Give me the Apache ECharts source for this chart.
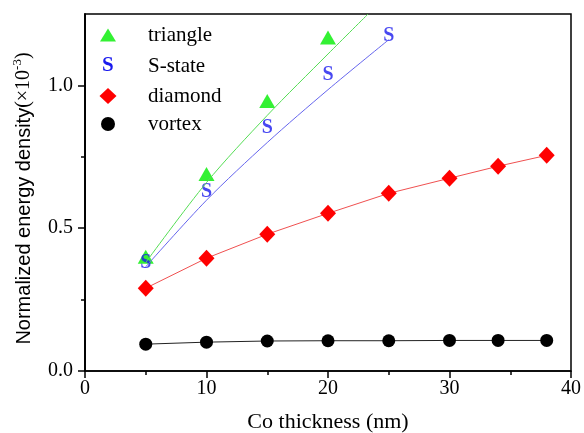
<!DOCTYPE html>
<html>
<head>
<meta charset="utf-8">
<script src="https://cdn.jsdelivr.net/npm/echarts@6/dist/echarts.min.js"></script>
<style>
  html, body { margin: 0; padding: 0; background: #fff; }
  #main { width: 584px; height: 433px; }
</style>
</head>
<body>
<div id="main"></div>
<script>
// values
const thickness = [5, 10, 15, 20, 25, 30, 34, 38];
const triangleX = [5, 10, 15, 20];
const triangleY = [0.40, 0.69, 0.945, 1.168];
const sStateX = [5, 10, 15, 20, 25];
const sStateY = [0.378, 0.626, 0.85, 1.038, 1.175];
const diamondY = [0.29, 0.395, 0.479, 0.552, 0.622, 0.675, 0.717, 0.755];
const vortexY = [0.094, 0.101, 0.105, 0.106, 0.106, 0.107, 0.107, 0.107];
// fitted curves drawn through triangle and S-state
const triangleFitX = [5, 10, 15, 20, 23.3];
const triangleFitY = [0.38, 0.66, 0.895, 1.11, 1.25];
const sStateFitX = [5, 10, 15, 20, 25];
const sStateFitY = [0.365, 0.598, 0.80, 0.985, 1.16];
// ticks
const yTicks = [0, 0.5, 1.0];
const yMinorTicks = [0.25, 0.75];

const pairs = (xs, ys) => xs.map((x, i) => [x, ys[i]]);

const serif = 'Liberation Serif';
const chart = echarts.init(document.getElementById('main'));

// legend helper: one legend per row so each icon gets its own size
function legendRow(name, icon, w, h, rowY) {
  return {
    data: [{ name: name, icon: icon }],
    orient: 'vertical',
    left: 108 - w / 2,
    top: rowY - 11,
    padding: 0,
    itemWidth: w,
    itemHeight: h,
    selectedMode: false,
    textStyle: {
      fontFamily: serif, fontSize: 21, color: '#000', lineHeight: 22,
      padding: [0, 0, 0, 35 - w / 2]
    }
  };
}

const option = {
  animation: false,
  backgroundColor: '#fff',
  grid: {
    left: 85, right: 13, top: 14, bottom: 62,
    show: true, borderColor: '#000', borderWidth: 1.5,
    outerBoundsMode: 'none'
  },
  legend: [
    legendRow('triangle', 'triangle', 16, 13, 35),
    {
      data: [{ name: 'S-state', icon: 'none' }],
      left: 97, top: 66 - 11, padding: 0,
      itemWidth: 0, itemHeight: 14, selectedMode: false,
      formatter: '{s|S}{t|S-state}',
      textStyle: {
        lineHeight: 22,
        rich: {
          s: { fontFamily: serif, fontSize: 21, fontWeight: 'bold', color: '#1a1aee', width: 46 },
          t: { fontFamily: serif, fontSize: 21, color: '#000' }
        }
      }
    },
    legendRow('diamond', 'diamond', 17, 16, 96),
    legendRow('vortex', 'circle', 14, 14, 124)
  ],
  xAxis: {
    type: 'value', min: 0, max: 40, interval: 10,
    axisLine: { lineStyle: { color: '#000', width: 1.5 } },
    axisTick: { length: 7, lineStyle: { color: '#000', width: 1.5 } },
    minorTick: { show: true, splitNumber: 2, length: 4, lineStyle: { color: '#000', width: 1.5 } },
    axisLabel: { fontFamily: serif, fontSize: 20, color: '#000', margin: 8 },
    splitLine: { show: false },
    name: 'Co thickness (nm)',
    nameLocation: 'middle', nameGap: 40,
    nameTextStyle: { fontFamily: serif, fontSize: 22, color: '#000' }
  },
  yAxis: [
    {
      type: 'value', min: 0, max: 1.25, interval: 0.5, position: 'left',
      axisLine: { show: true, lineStyle: { color: '#000', width: 1.5 } },
      axisTick: { show: true, customValues: yTicks, length: 7, lineStyle: { color: '#000', width: 1.5 } },
      axisLabel: {
        customValues: yTicks, formatter: v => v.toFixed(1),
        fontFamily: serif, fontSize: 20, color: '#000', margin: 12
      },
      splitLine: { show: false },
      name: '{a|Normalized energy density}{b|(×10}{c|-3}{b|)}',
      nameLocation: 'middle', nameGap: 48, nameRotate: 90,
      nameTextStyle: {
        color: '#000',
        padding: [0, 12, 0, 0],
        rich: {
          a: { fontFamily: 'Liberation Sans', fontSize: 20, lineHeight: 26, color: '#000' },
          b: { fontFamily: serif, fontSize: 20, lineHeight: 26, color: '#000' },
          c: { fontFamily: serif, fontSize: 13, lineHeight: 13, verticalAlign: 'top', color: '#000' }
        }
      }
    },
    {
      // minor ticks only, overlaid on the left axis (same 0..1.25 scale)
      type: 'value', min: 0, max: 1.25, interval: 0.25, position: 'left',
      axisLine: { show: true, lineStyle: { color: '#000', width: 1.5 } },
      axisTick: { show: true, customValues: yMinorTicks, length: 4, lineStyle: { color: '#000', width: 1.5 } },
      axisLabel: { show: false },
      splitLine: { show: false }
    }
  ],
  series: [
    {
      name: 'triangle fit', type: 'line', silent: true, smooth: 0.3,
      yAxisIndex: 1,
      data: pairs(triangleFitX, triangleFitY), symbol: 'none',
      lineStyle: { color: '#55dd55', width: 1 }
    },
    {
      name: 'S-state fit', type: 'line', silent: true, smooth: 0.3,
      yAxisIndex: 1,
      data: pairs(sStateFitX, sStateFitY), symbol: 'none',
      lineStyle: { color: '#6666ee', width: 1 }
    },
    {
      name: 'diamond', type: 'line',
      data: pairs(thickness, diamondY),
      symbol: 'diamond', symbolSize: [16, 17],
      itemStyle: { color: '#ff0000' },
      lineStyle: { color: '#f05050', width: 1 }
    },
    {
      name: 'vortex', type: 'line',
      data: pairs(thickness, vortexY),
      symbol: 'circle', symbolSize: 13,
      itemStyle: { color: '#000' },
      lineStyle: { color: '#222', width: 1 }
    },
    {
      name: 'triangle', type: 'scatter',
      data: pairs(triangleX, triangleY),
      symbol: 'triangle', symbolSize: [16, 14],
      itemStyle: { color: '#00ee00' }
    },
    {
      name: 'S-state', type: 'scatter',
      data: pairs(sStateX, sStateY),
      symbol: 'circle', symbolSize: 1,
      itemStyle: { color: 'rgba(0,0,0,0)' },
      label: {
        show: true, position: 'inside', formatter: 'S',
        fontFamily: serif, fontSize: 20, fontWeight: 'bold', color: '#1a1aee'
      }
    }
  ]
};

chart.setOption(option);
</script>
</body>
</html>
